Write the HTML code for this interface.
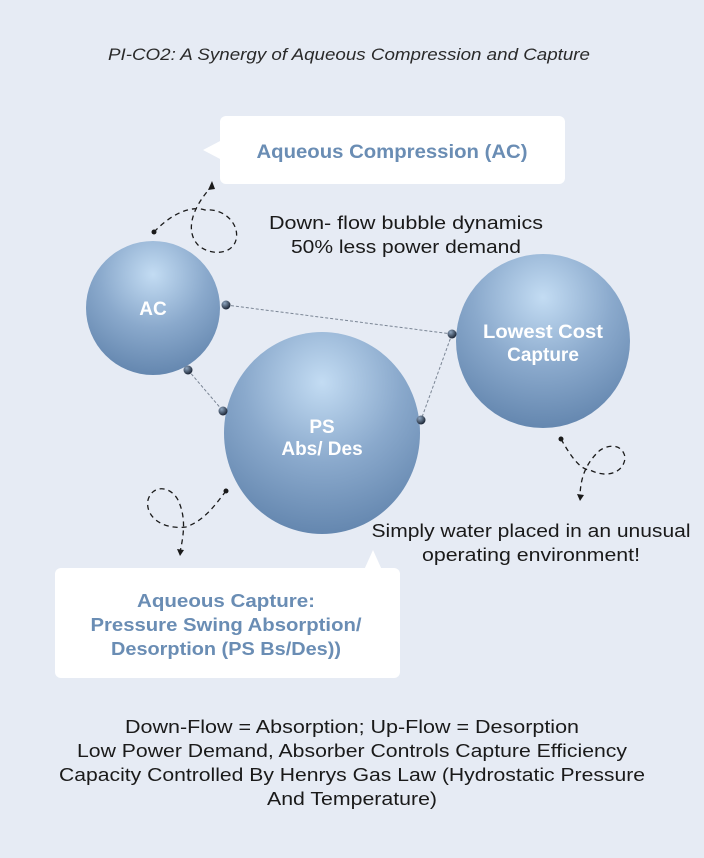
<!DOCTYPE html>
<html><head><meta charset="utf-8"><style>
body{margin:0;background:#e6ebf4;}
svg{display:block}
text{font-family:"Liberation Sans",sans-serif}
</style></head><body>
<svg width="704" height="858" viewBox="0 0 704 858" xmlns="http://www.w3.org/2000/svg">
<defs>
<radialGradient id="g" cx="0.5" cy="0.25" r="0.8">
<stop offset="0" stop-color="#c3dcf3"/>
<stop offset="0.5" stop-color="#8aa9cc"/>
<stop offset="1" stop-color="#5f82ab"/>
</radialGradient>
<radialGradient id="d" cx="0.35" cy="0.3" r="0.7">
<stop offset="0" stop-color="#8fa6c0"/>
<stop offset="1" stop-color="#1c2636"/>
</radialGradient>
</defs>
<rect width="704" height="858" fill="#e6ebf4"/>
<text x="349" y="60" text-anchor="middle" font-size="17" font-style="italic" fill="#2a2a2a" textLength="482" lengthAdjust="spacingAndGlyphs">PI-CO2: A Synergy of Aqueous Compression and Capture</text>

<rect x="220" y="116" width="345" height="68" rx="6" fill="#fff"/>
<polygon points="222,140 203,150 222,160" fill="#fff"/>
<text x="392" y="158" text-anchor="middle" font-size="19" font-weight="bold" fill="#6a8db4" textLength="271" lengthAdjust="spacingAndGlyphs">Aqueous Compression (AC)</text>

<text x="406" y="229" text-anchor="middle" font-size="18" fill="#1a1a1a" textLength="274" lengthAdjust="spacingAndGlyphs">Down- flow bubble dynamics</text>
<text x="406" y="253" text-anchor="middle" font-size="18" fill="#1a1a1a" textLength="230" lengthAdjust="spacingAndGlyphs">50% less power demand</text>

<g stroke="#7a8594" stroke-width="1" stroke-dasharray="3,2" fill="none">
<line x1="226" y1="305" x2="452" y2="334"/>
<line x1="188" y1="370" x2="223" y2="411"/>
<line x1="452" y1="334" x2="421" y2="420"/>
</g>

<circle cx="153" cy="308" r="67" fill="url(#g)"/>
<ellipse cx="322" cy="433" rx="98" ry="101" fill="url(#g)"/>
<circle cx="543" cy="341" r="87" fill="url(#g)"/>

<text x="153" y="315" text-anchor="middle" font-size="19" font-weight="bold" fill="#fff">AC</text>
<text x="322" y="433" text-anchor="middle" font-size="19" font-weight="bold" fill="#fff">PS</text>
<text x="322" y="455" text-anchor="middle" font-size="19" font-weight="bold" fill="#fff">Abs/ Des</text>
<text x="543" y="338" text-anchor="middle" font-size="19" font-weight="bold" fill="#fff" textLength="120" lengthAdjust="spacingAndGlyphs">Lowest Cost</text>
<text x="543" y="361" text-anchor="middle" font-size="19" font-weight="bold" fill="#fff">Capture</text>

<g fill="url(#d)">
<circle cx="226" cy="305" r="4.5"/><circle cx="452" cy="334" r="4.5"/>
<circle cx="188" cy="370" r="4.5"/><circle cx="223" cy="411" r="4.5"/>
<circle cx="421" cy="420" r="4.5"/>
</g>

<g stroke="#1a1a1a" stroke-width="1.3" stroke-dasharray="5,4" fill="none">
<path d="M154,232 C170,215 190,205 205,210 C225,208 240,225 236,240 C232,255 210,256 198,245 C186,232 190,210 212,186"/>
<path d="M226,491 C215,505 205,520 186,527 C160,530 145,515 148,500 C152,485 170,485 178,500 C185,515 185,530 180,552"/>
<path d="M561,439 C570,455 580,470 590,470 C610,480 625,470 625,457 C622,442 605,445 598,452 C588,462 580,475 580,498"/>
</g>
<g fill="#1a1a1a">
<circle cx="154" cy="232" r="2.5"/><circle cx="226" cy="491" r="2.5"/><circle cx="561" cy="439" r="2.5"/>
<polygon points="212,181 208,190 215,189"/>
<polygon points="180,556 177,549 184,550"/>
<polygon points="580,501 577,494 584,495"/>
</g>

<text x="531" y="537" text-anchor="middle" font-size="18" fill="#1a1a1a" textLength="319" lengthAdjust="spacingAndGlyphs">Simply water placed in an unusual</text>
<text x="531" y="561" text-anchor="middle" font-size="18" fill="#1a1a1a" textLength="218" lengthAdjust="spacingAndGlyphs">operating environment!</text>

<rect x="55" y="568" width="345" height="110" rx="6" fill="#fff"/>
<polygon points="364,570 373,550 382,570" fill="#fff"/>
<text x="226" y="607" text-anchor="middle" font-size="18" font-weight="bold" fill="#6a8db4" textLength="178" lengthAdjust="spacingAndGlyphs">Aqueous Capture:</text>
<text x="226" y="631" text-anchor="middle" font-size="18" font-weight="bold" fill="#6a8db4" textLength="271" lengthAdjust="spacingAndGlyphs">Pressure Swing Absorption/</text>
<text x="226" y="655" text-anchor="middle" font-size="18" font-weight="bold" fill="#6a8db4" textLength="230" lengthAdjust="spacingAndGlyphs">Desorption (PS Bs/Des))</text>

<g font-size="18" fill="#1a1a1a" text-anchor="middle">
<text x="352" y="733" textLength="454" lengthAdjust="spacingAndGlyphs">Down-Flow = Absorption; Up-Flow = Desorption</text>
<text x="352" y="757" textLength="550" lengthAdjust="spacingAndGlyphs">Low Power Demand, Absorber Controls Capture Efficiency</text>
<text x="352" y="781" textLength="586" lengthAdjust="spacingAndGlyphs">Capacity Controlled By Henrys Gas Law (Hydrostatic Pressure</text>
<text x="352" y="805" textLength="170" lengthAdjust="spacingAndGlyphs">And Temperature)</text>
</g>
</svg>
</body></html>
